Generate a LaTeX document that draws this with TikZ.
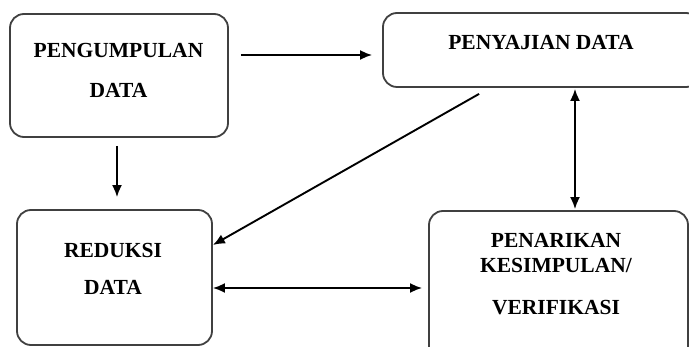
\documentclass[tikz,border=0pt]{standalone}
\usepackage{fontspec}
\setmainfont{Liberation Serif}
\usepackage{tikz}
\usetikzlibrary{arrows.meta, calc, positioning}
\tikzstyle{box} = [rectangle, rounded corners=14pt, line width=1.8pt, draw=black!75, inner sep=0pt]
\tikzstyle{label} = [inner sep=0pt, align=center, font=\fontsize{21.5}{25}\selectfont\bfseries]
\tikzstyle{arrow} = [line width=1.9pt, ->, >={Latex[length=12pt,width=10pt]}]
\tikzstyle{dblarrow} = [line width=1.9pt, <->, >={Latex[length=12pt,width=10pt]}]

\begin{document}
\begin{tikzpicture}[x=1pt, y=-1pt]
		\useasboundingbox (0,0) rectangle (689,347);
		\node (Pengumpulan) [box, minimum width=218pt, minimum height=123pt] at (119,75.5) {};
		\node (Penyajian) [box, minimum width=317pt, minimum height=74pt] at (541.5,50) {};
		\node (Reduksi) [box, minimum width=195pt, minimum height=135pt] at (114.5,277.5) {};
		\node (Penarikan) [box, minimum width=259pt, minimum height=164pt] at (558.5,293) {};
		\node (PengumpulanText) [label, anchor=north] at (118.5,43) {PENGUMPULAN\\[15pt]DATA};
		\node (PenyajianText) [label, anchor=north] at (541,35.5) {PENYAJIAN DATA};
		\node (ReduksiText) [label, anchor=north] at (113,243) {REDUKSI\\[12.5pt]DATA};
		\node (PenarikanText) [label, anchor=north] at (556,233) {PENARIKAN\\[0.5pt]KESIMPULAN/\\[17pt]VERIFIKASI};
		\draw [arrow, shorten <=12pt, shorten >=10pt] ([yshift=-5pt]Penyajian.west -| Pengumpulan.east) -- ([yshift=-5pt]Penyajian.west);
		\draw [arrow, shorten <=8pt, shorten >=12pt] ([xshift=-2pt]Pengumpulan.south) -- ([xshift=-2pt]Pengumpulan.south |- Reduksi.north);
		\draw [arrow] ([shift={(97,6)}]Penyajian.south west) -- ([yshift=32.5pt]Reduksi.east);
		\draw [dblarrow, shorten <=1pt, shorten >=1pt] ([xshift=33.5pt]Penyajian.south) -- ([xshift=33.5pt]Penyajian.south |- Penarikan.north);
		\draw [dblarrow, shorten >=6pt] ([yshift=-10.5pt]Reduksi.east) -- ([yshift=-10.5pt]Reduksi.east -| Penarikan.west);
\end{tikzpicture}
\end{document}
